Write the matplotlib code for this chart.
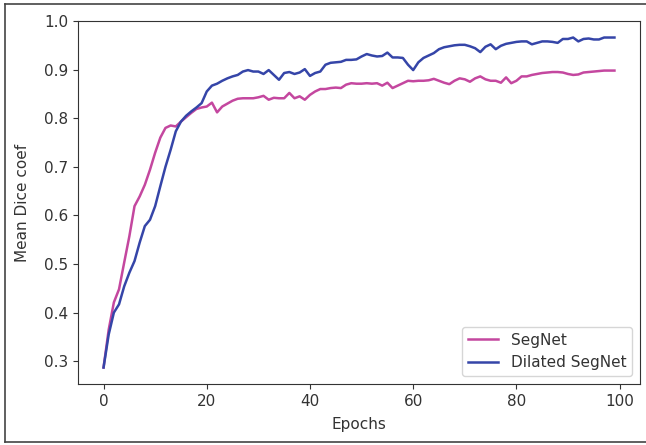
import numpy as np
import matplotlib.pyplot as plt
from matplotlib.lines import Line2D

# epochs 0..99
epochs = np.arange(100)

segnet = [
    0.287, 0.365, 0.421, 0.448, 0.503, 0.557, 0.619, 0.639, 0.663, 0.694,
    0.729, 0.760, 0.780, 0.785, 0.783, 0.793, 0.802, 0.811, 0.819, 0.822,
    0.824, 0.832, 0.812, 0.824, 0.830, 0.836, 0.840, 0.841, 0.841, 0.841,
    0.843, 0.846, 0.838, 0.842, 0.841, 0.841, 0.852, 0.841, 0.845, 0.838,
    0.848, 0.855, 0.860, 0.860, 0.862, 0.863, 0.862, 0.869, 0.872, 0.871,
    0.871, 0.872, 0.871, 0.872, 0.867, 0.873, 0.862, 0.867, 0.872, 0.877,
    0.876, 0.877, 0.877, 0.878, 0.881, 0.877, 0.873, 0.870, 0.877, 0.882,
    0.880, 0.875, 0.882, 0.886, 0.880, 0.877, 0.877, 0.873, 0.884, 0.872,
    0.877, 0.886, 0.886, 0.889, 0.891, 0.893, 0.894, 0.895, 0.895, 0.894,
    0.891, 0.889, 0.890, 0.894, 0.895, 0.896, 0.897, 0.898, 0.898, 0.898,
]

dilated = [
    0.287, 0.355, 0.400, 0.417, 0.454, 0.482, 0.506, 0.544, 0.578, 0.591,
    0.619, 0.660, 0.700, 0.735, 0.773, 0.793, 0.805, 0.814, 0.822, 0.831,
    0.855, 0.867, 0.871, 0.877, 0.882, 0.886, 0.889, 0.896, 0.899, 0.896,
    0.896, 0.891, 0.899, 0.889, 0.879, 0.893, 0.895, 0.891, 0.894, 0.901,
    0.887, 0.893, 0.896, 0.910, 0.914, 0.915, 0.916, 0.920, 0.920, 0.921,
    0.927, 0.932, 0.929, 0.927, 0.928, 0.935, 0.925, 0.925, 0.924, 0.910,
    0.899, 0.915, 0.924, 0.929, 0.934, 0.942, 0.946, 0.948, 0.950, 0.951,
    0.951, 0.948, 0.944, 0.936, 0.947, 0.952, 0.942, 0.949, 0.953, 0.955,
    0.957, 0.958, 0.958, 0.952, 0.955, 0.958, 0.958, 0.957, 0.955, 0.963,
    0.963, 0.966, 0.958, 0.963, 0.964, 0.962, 0.962, 0.966, 0.966, 0.966,
]

fig = plt.figure(figsize=(6.46, 4.45), dpi=100)
ax = fig.add_axes([78 / 646, 61 / 445, 562 / 646, 363 / 445])

ax.plot(epochs, segnet, color="#c4479f", lw=1.8, label="SegNet")
ax.plot(epochs, dilated, color="#3545a8", lw=1.8, label="Dilated SegNet")

ax.set_xticks([0, 20, 40, 60, 80, 100])
ax.set_yticks([0.3, 0.4, 0.5, 0.6, 0.7, 0.8, 0.9, 1.0])
ax.tick_params(labelsize=11, colors="#333333")
for s in ax.spines.values():
    s.set_color("#333333")
ax.set_xlabel("Epochs", fontsize=11, labelpad=6, color="#333333")
ax.set_ylabel("Mean Dice coef", fontsize=11, labelpad=10, color="#333333")
ax.legend(loc="lower right", fontsize=11, labelcolor="#333333")

# outer frame around the picture (right side is cropped)
frame_kw = dict(transform=fig.transFigure, color="#444444", lw=1.2)
fig.add_artist(Line2D([5 / 646, 5 / 646], [3 / 445, 441 / 445], **frame_kw))
fig.add_artist(Line2D([5 / 646, 1], [441 / 445, 441 / 445], **frame_kw))
fig.add_artist(Line2D([5 / 646, 1], [3 / 445, 3 / 445], **frame_kw))

fig.savefig("out.png", dpi=100)
